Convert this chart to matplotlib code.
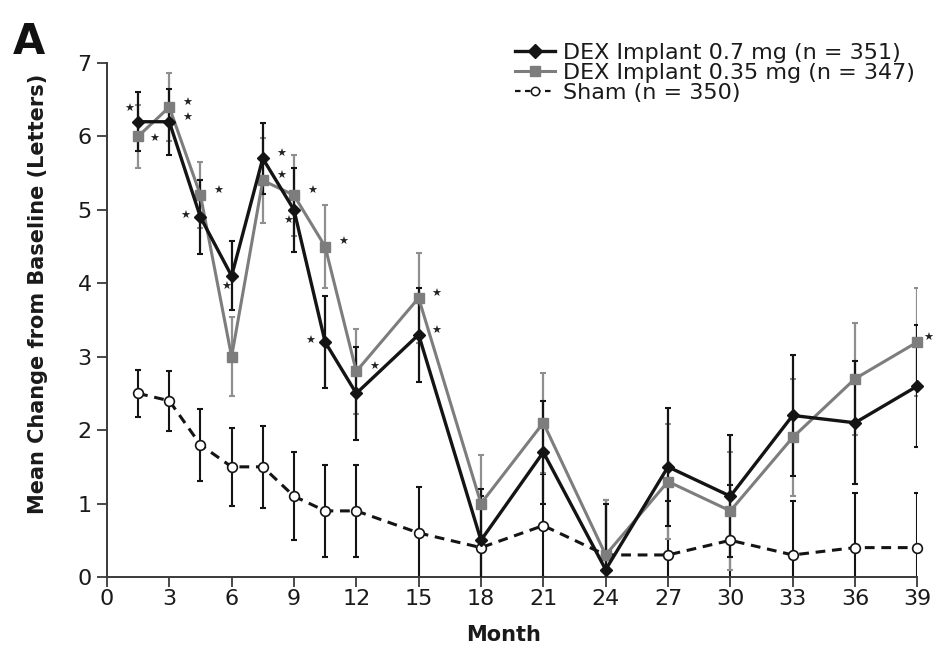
import matplotlib
matplotlib.use("Agg")
import matplotlib.pyplot as plt
from matplotlib.lines import Line2D

plt.rcParams['font.family'] = ['DejaVu Sans']

# ---------------- data ----------------
months = [1.5, 3, 4.5, 6, 7.5, 9, 10.5, 12, 15, 18, 21, 24, 27, 30, 33, 36, 39]
dex07 = [6.2, 6.2, 4.9, 4.1, 5.7, 5.0, 3.2, 2.5, 3.3, 0.5, 1.7, 0.1, 1.5, 1.1, 2.2, 2.1, 2.6]
dex07_err = [0.40, 0.45, 0.50, 0.47, 0.48, 0.57, 0.62, 0.63, 0.64, 0.70, 0.70, 0.90, 0.80, 0.83, 0.82, 0.84, 0.83]
dex035 = [6.0, 6.4, 5.2, 3.0, 5.4, 5.2, 4.5, 2.8, 3.8, 1.0, 2.1, 0.3, 1.3, 0.9, 1.9, 2.7, 3.2]
dex035_err = [0.43, 0.46, 0.45, 0.54, 0.58, 0.55, 0.57, 0.58, 0.61, 0.66, 0.68, 0.75, 0.78, 0.80, 0.80, 0.76, 0.74]
sham = [2.5, 2.4, 1.8, 1.5, 1.5, 1.1, 0.9, 0.9, 0.6, 0.4, 0.7, 0.3, 0.3, 0.5, 0.3, 0.4, 0.4]
sham_err = [0.32, 0.41, 0.49, 0.53, 0.56, 0.60, 0.63, 0.63, 0.63, 0.70, 0.70, 0.75, 0.73, 0.75, 0.73, 0.74, 0.74]

labels = ["DEX Implant 0.7 mg (n = 351)", "DEX Implant 0.35 mg (n = 347)", "Sham (n = 350)"]
x_ticks = list(range(0, 40, 3))
y_ticks = list(range(0, 8))

# significance stars: months where significant, with placement side
stars07 = [(1.5, 'ul'), (3, 'r'), (4.5, 'l'), (6, 'dl'), (7.5, 'r'), (9, 'dl'), (10.5, 'l'), (15, 'r')]
stars035 = [(1.5, 'rd'), (3, 'r'), (4.5, 'r'), (7.5, 'r'), (9, 'r'), (10.5, 'r'), (12, 'r'), (15, 'r'), (39, 'rs')]

# ---------------- style ----------------
BLACK = '#141414'
GREY = '#7d7d7d'
GREY_ERR = '#8f8f8f'
TXT = '#1a1a1a'
star_offsets = {'r': (13, 3), 'l': (-11, 1), 'ul': (-6, 9), 'dl': (-4, -8),
                'rd': (12, -2), 'rs': (8, 3)}

fig = plt.figure(figsize=(9.38, 6.48), dpi=100)
ax = fig.add_axes([0.114, 0.1096, 0.864, 0.7932])

# error bars
ax.errorbar(months, sham, yerr=sham_err, fmt='none', ecolor=BLACK, elinewidth=1.5,
            capsize=2.5, capthick=1.5, zorder=2)
ax.errorbar(months, dex035, yerr=dex035_err, fmt='none', ecolor=GREY_ERR, elinewidth=1.6,
            capsize=2.5, capthick=1.5, zorder=3)
ax.errorbar(months, dex07, yerr=dex07_err, fmt='none', ecolor=BLACK, elinewidth=1.6,
            capsize=2.5, capthick=1.5, zorder=4)

# lines
ax.plot(months, sham, color=BLACK, lw=2.2, ls=(0, (3.2, 2.2)), marker='o', ms=7,
        mfc='white', mec=BLACK, mew=1.2, clip_on=False, zorder=5)
ax.plot(months, dex035, color=GREY, lw=2.2, marker='s', ms=7, mfc=GREY, mec=GREY,
        clip_on=False, zorder=6)
ax.plot(months, dex07, color=BLACK, lw=2.4, marker='D', ms=6.5, mfc=BLACK, mec=BLACK,
        clip_on=False, zorder=7)

# stars
def add_stars(spec, xs, ys):
    for m, side in spec:
        i = xs.index(m)
        dx, dy = star_offsets[side]
        ax.annotate('\u2605', (xs[i], ys[i]), xytext=(dx, dy), textcoords='offset points',
                    ha='center', va='center', fontsize=8, color='#222222',
                    annotation_clip=False, zorder=8)

add_stars(stars07, months, dex07)
add_stars(stars035, months, dex035)

# axes styling
ax.set_xlim(0, 39)
ax.set_ylim(0, 7)
ax.set_xticks(x_ticks)
ax.set_yticks(y_ticks)
for s in ['top', 'right']:
    ax.spines[s].set_visible(False)
for s in ['left', 'bottom']:
    ax.spines[s].set_color('#3a3a3a')
    ax.spines[s].set_linewidth(1.4)
ax.tick_params(direction='out', length=7, width=1.3, colors='#3a3a3a',
               labelsize=16, labelcolor=TXT)
ax.tick_params(axis='x', pad=2)
ax.tick_params(axis='y', pad=4)
ax.set_xlabel('Month', fontsize=15, fontweight='bold', color=TXT)
ax.xaxis.set_label_coords(0.49, -0.093)
ax.set_ylabel('Mean Change from Baseline (Letters)', fontsize=15, fontweight='bold', color=TXT)
ax.yaxis.set_label_coords(-0.073, 0.55)

fig.text(0.014, 0.968, 'A', fontsize=30, fontweight='bold', ha='left', va='top', color='#111111')

handles = [
    Line2D([], [], color=BLACK, lw=2.4, marker='D', ms=7, mfc=BLACK, mec=BLACK),
    Line2D([], [], color=GREY, lw=2.2, marker='s', ms=6.5, mfc=GREY, mec=GREY),
    Line2D([], [], color=BLACK, lw=1.6, ls=(0, (2.5, 2)), marker='o', ms=6,
           mfc='white', mec=BLACK, mew=1.1),
]
fig.legend(handles, labels, loc='upper left', bbox_to_anchor=(0.549, 0.934),
           frameon=False, fontsize=16, handlelength=1.8, handletextpad=0.35,
           labelspacing=0.0, borderpad=0, borderaxespad=0, labelcolor=TXT)

fig.savefig('out.png', dpi=100)
